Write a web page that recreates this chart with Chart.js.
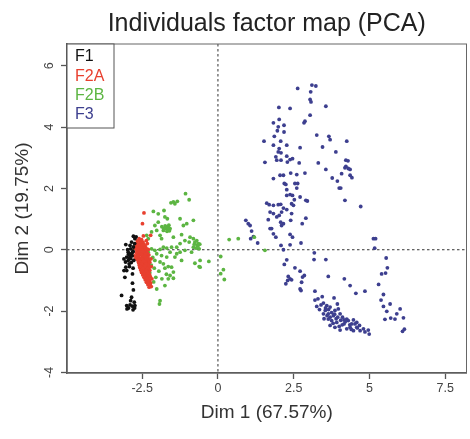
<!DOCTYPE html>
<html>
<head>
<meta charset="utf-8">
<script src="https://cdn.jsdelivr.net/npm/chart.js@4"></script>
<style>
  body { margin: 0; background: #fff; }
  #pca { display: block; }
</style>
</head>
<body>
<canvas id="pca" width="470" height="439"></canvas>
<script>
// group names and colours (legend order)
const groups = ["F1", "F2A", "F2B", "F3"];
const groupColors = ["#111111", "#e8402f", "#5cb542", "#3d3f8f"];

// tick values
const xTicks = [-2.5, 0, 2.5, 5, 7.5];
const yTicks = [-4, -2, 0, 2, 4, 6];

// individuals, [Dim 1, Dim 2]
const f1 = [
  [-2.79,0.44],[-2.70,0.42],[-2.74,0.36],[-2.85,0.25],[-2.75,0.20],[-3.04,0.17],[-2.90,0.14],
  [-2.79,0.09],[-2.88,0.03],[-2.98,0.00],[-2.80,-0.05],[-2.96,-0.08],[-2.82,-0.08],[-2.85,-0.13],
  [-2.95,-0.15],[-2.90,-0.18],[-2.83,-0.20],[-3.01,-0.24],[-2.93,-0.27],[-2.88,-0.29],[-3.10,-0.30],
  [-2.78,-0.35],[-2.96,-0.35],[-3.05,-0.40],[-2.86,-0.42],[-2.93,-0.46],[-2.92,-0.55],[-3.04,-0.57],
  [-2.80,-0.60],[-3.01,-0.68],[-3.10,-0.68],[-2.82,-0.79],[-3.07,-0.90],[-2.82,-1.09],[-2.79,-1.31],
  [-3.18,-1.49],[-2.85,-1.55],[-2.88,-1.66],[-2.76,-1.71],[-2.90,-1.80],[-2.74,-1.82],[-2.82,-1.84],
  [-3.01,-1.82],[-3.00,-1.93],[-2.95,-1.90],[-2.80,-1.96],[-2.75,-1.90]
];

const f2a = [
  [-2.60,0.36],[-2.52,0.33],[-2.66,0.29],[-2.57,0.27],[-2.47,0.25],[-2.69,0.21],[-2.61,0.19],
  [-2.53,0.22],[-2.44,0.17],[-2.71,0.13],[-2.63,0.11],[-2.55,0.14],[-2.47,0.10],[-2.40,0.12],
  [-2.68,0.06],[-2.60,0.04],[-2.52,0.07],[-2.45,0.03],[-2.37,0.05],[-2.67,-0.02],[-2.59,-0.03],
  [-2.51,-0.01],[-2.43,-0.04],[-2.35,-0.02],[-2.30,0.01],[-2.70,-0.10],[-2.62,-0.09],[-2.56,-0.12],
  [-2.48,-0.10],[-2.41,-0.08],[-2.33,-0.11],[-2.66,-0.18],[-2.58,-0.17],[-2.50,-0.20],[-2.43,-0.16],
  [-2.35,-0.19],[-2.28,-0.17],[-2.68,-0.26],[-2.61,-0.25],[-2.54,-0.28],[-2.46,-0.24],[-2.38,-0.27],
  [-2.31,-0.25],[-2.64,-0.34],[-2.57,-0.33],[-2.49,-0.36],[-2.42,-0.32],[-2.34,-0.35],[-2.27,-0.33],
  [-2.62,-0.42],[-2.55,-0.41],[-2.47,-0.44],[-2.40,-0.40],[-2.32,-0.43],[-2.25,-0.41],[-2.60,-0.50],
  [-2.52,-0.49],[-2.45,-0.52],[-2.37,-0.48],[-2.29,-0.51],[-2.58,-0.58],[-2.50,-0.57],[-2.42,-0.60],
  [-2.35,-0.56],[-2.27,-0.59],[-2.55,-0.66],[-2.47,-0.65],[-2.40,-0.68],[-2.32,-0.64],[-2.25,-0.67],
  [-2.52,-0.74],[-2.45,-0.73],[-2.37,-0.76],[-2.29,-0.72],[-2.48,-0.82],[-2.41,-0.81],[-2.34,-0.84],
  [-2.26,-0.80],[-2.44,-0.90],[-2.37,-0.89],[-2.30,-0.92],[-2.23,-0.88],[-2.40,-0.98],[-2.33,-0.97],
  [-2.26,-1.00],[-2.36,-1.06],[-2.29,-1.05],[-2.22,-1.08],[-2.31,-1.14],[-2.24,-1.13],[-2.27,-1.22],
  [-2.20,-1.20],
  [-2.64,0.00],[-2.56,0.08],[-2.49,0.15],[-2.58,-0.06],[-2.46,-0.06],[-2.39,-0.14],[-2.53,-0.15],
  [-2.63,-0.21],[-2.42,-0.22],[-2.50,-0.30],[-2.36,-0.30],[-2.59,-0.38],[-2.45,-0.38],[-2.52,-0.46],
  [-2.38,-0.46],[-2.56,-0.54],[-2.41,-0.54],[-2.47,-0.62],[-2.33,-0.62],[-2.50,-0.70],[-2.36,-0.70],
  [-2.42,-0.78],[-2.31,-0.78],[-2.39,-0.86],[-2.28,-0.86],[-2.34,-0.94],[-2.30,-1.02],[-2.26,-1.10],
  [-2.44,1.20],[-2.49,0.85],[-2.22,0.47],[-2.46,0.45],[-2.36,0.30],[-2.74,0.05],[-2.72,-0.30],
  [-2.21,-0.30],[-2.20,-0.55],[-2.18,-0.95],[-2.75,-0.20],[-2.33,0.20]
];

const f2b = [
  [-1.07,1.83],[-0.95,1.63],[-1.34,1.58],[-1.47,1.56],[-1.42,1.50],[-1.55,1.53],[-1.78,1.28],
  [-1.97,1.17],[-2.13,1.25],[-1.75,1.07],[-1.67,1.01],[-1.72,0.74],[-1.64,0.74],[-1.75,0.69],
  [-1.80,0.63],[-1.58,0.69],[-1.25,1.01],[-0.81,0.96],[-1.14,0.79],[-1.03,0.85],[-1.97,0.90],
  [-2.08,0.79],[-2.02,0.63],[-2.19,0.58],[-2.35,0.47],[-1.91,0.47],[-2.30,0.36],[-1.86,0.36],
  [-1.47,0.41],[-1.20,0.49],[-0.92,0.41],[-0.81,0.36],[-0.76,0.25],[-0.68,0.14],[-0.62,0.03],
  [-0.65,0.20],[-0.81,0.085],[-0.95,0.25],[-1.09,0.30],[-1.25,0.20],[-1.36,0.085],[-1.53,0.085],
  [-1.69,0.053],[-1.80,0.085],[-1.91,0.01],[-2.08,-0.02],[-2.19,0.03],[-2.30,-0.08],[-2.02,-0.13],
  [-1.86,-0.19],[-1.69,-0.24],[-1.91,-0.40],[-1.80,-0.46],[-2.08,-0.35],[-1.64,-0.55],[-1.53,-0.57],
  [-1.47,-0.73],[-1.58,-0.84],[-1.64,-0.95],[-1.47,-0.93],[-1.75,-1.17],[-2.02,-1.28],[-1.91,-1.66],
  [-1.93,-1.77],[-0.59,-0.35],[-0.62,-0.55],[-0.30,-0.38],[-0.76,-0.44],[-1.20,-0.35],[-1.42,-0.24],
  [-1.09,-0.02],[-0.87,-0.08],[-1.25,-0.08],[-1.36,-0.13],[-1.58,-0.08],[-0.59,-0.57],
  [-1.70,0.72],[-1.66,0.66],[-1.74,0.78],[-1.62,0.80],[-1.78,0.70],[-1.68,0.60],[-1.60,0.62],
  [-1.85,0.75],[-0.70,0.30],[-0.66,0.12],[-0.72,0.05],[-0.60,0.18],[-0.78,0.18],
  [-2.15,-0.25],[-2.20,-0.50],[-2.10,-0.60],[-1.95,-0.70],[-2.05,-0.90],[-1.85,-0.95],[-1.70,-0.80],
  [-1.75,-0.60],[-2.25,-0.75],[-2.12,-1.05],
  [0.09,-0.22],[0.18,-0.65],[0.09,-0.78],[0.21,-0.97],[0.37,0.33],[0.67,0.36],[1.20,0.41],[1.55,-0.02]
];

const f3 = [
  [2.63,5.26],[3.10,5.37],[3.23,5.34],[3.06,5.15],[3.04,4.90],[3.07,4.82],[3.56,4.68],[2.01,4.64],
  [2.38,4.61],[3.04,4.39],[2.87,4.19],[2.84,4.14],[1.83,4.14],[2.02,4.25],[2.18,4.06],[1.99,4.01],
  [1.96,3.88],[2.18,3.84],[1.86,3.70],[1.52,3.54],[2.07,3.54],[1.83,3.41],[2.27,3.41],[2.71,3.33],
  [3.26,3.74],[3.66,3.70],[3.70,3.59],[4.25,3.54],[3.45,3.35],[2.02,3.30],[1.99,3.19],[2.08,3.16],
  [1.91,3.03],[1.94,2.92],[2.08,2.92],[2.27,3.05],[2.38,2.94],[2.46,2.97],[1.55,2.85],[2.29,2.86],
  [2.68,2.83],[3.31,2.83],[3.89,3.19],[4.22,2.92],[4.29,2.90],[4.22,2.72],[4.30,2.65],[4.36,2.62],
  [4.19,2.67],[3.56,2.62],[4.08,2.48],[4.36,2.43],[4.42,2.35],[1.83,2.32],[2.05,2.43],[2.16,2.43],
  [2.40,2.50],[2.60,2.45],[2.87,2.50],[3.77,2.34],[3.94,2.24],[4.00,2.01],[4.05,2.01],[2.19,2.16],
  [2.24,2.13],[2.54,2.16],[2.63,2.16],[2.27,1.96],[2.60,2.01],[2.38,1.80],[2.27,1.77],[2.46,1.77],
  [2.52,1.63],[2.71,1.72],[2.90,1.61],[2.95,1.59],[2.43,1.50],[2.49,1.45],[1.61,1.52],[1.69,1.47],
  [1.83,1.45],[1.99,1.47],[2.07,1.48],[2.16,1.36],[4.19,1.61],[4.71,1.41],[2.27,1.31],[2.10,1.23],
  [2.02,1.12],[1.72,1.23],[1.83,1.18],[2.43,1.18],[2.07,0.90],[2.16,0.85],[2.10,0.79],[1.66,0.98],
  [1.77,0.69],[1.94,1.07],[2.40,0.96],[2.90,1.03],[2.78,0.85],[0.92,0.96],[1.00,0.85],[1.06,0.79],
  [1.11,0.61],[1.17,0.43],[1.08,0.36],[1.31,0.22],[1.72,0.69],[1.83,0.52],[1.91,0.41],[2.38,0.50],
  [2.46,0.41],[2.08,0.14],[2.16,0.00],[2.38,0.16],[2.74,0.22],[5.13,0.36],[5.20,0.36],[5.17,0.05],
  [3.18,-0.10],[3.17,-0.32],[3.56,-0.32],[2.19,-0.48],[2.27,-0.33],[2.54,-0.59],[2.71,-0.70],
  [2.85,-0.84],[2.79,-0.89],[2.32,-0.87],[2.38,-0.95],[2.30,-1.00],[2.43,-0.98],[2.24,-1.11],
  [2.76,-1.06],[2.71,-1.28],[2.74,-1.33],[3.64,-0.87],[4.17,-0.95],[4.36,-1.17],[4.55,-1.42],
  [4.85,-1.35],[5.55,-0.27],[5.59,-0.59],[5.53,-0.76],[5.40,-0.79],[5.30,-1.13],[5.46,-1.46],
  [5.38,-1.64],[5.46,-1.85],[5.68,-1.77],[5.57,-2.01],[5.51,-2.27],[5.70,-2.23],[5.84,-2.26],
  [5.90,-2.09],[6.01,-1.93],[6.12,-2.22],[6.09,-2.66],[6.15,-2.59],[3.20,-1.35],[3.20,-1.64],
  [3.26,-1.85],[3.44,-1.53],[3.48,-1.74],[3.59,-1.82],[3.70,-1.87],[3.83,-1.57],[3.94,-1.77],
  [3.54,-1.98],[3.64,-2.09],[3.70,-2.20],[3.81,-2.15],[3.86,-1.98],[3.97,-1.93],[4.03,-2.09],
  [4.11,-2.20],[4.16,-2.29],[4.25,-2.26],[4.30,-2.31],[4.41,-2.42],[4.47,-2.29],[4.52,-2.42],
  [4.58,-2.53],[4.67,-2.47],[4.80,-2.58],[4.96,-2.62],[4.99,-2.75],[3.64,-2.26],[3.75,-2.31],
  [3.48,-2.09],[3.70,-2.47],[3.86,-2.53],[4.03,-2.62],[4.25,-2.58],[4.36,-2.53],[3.92,-2.37],
  [4.47,-2.64],[4.69,-2.64],[4.58,-2.37],[4.16,-2.42],
  [3.30,-1.60],[3.40,-1.80],[3.55,-1.90],[3.65,-1.95],[3.75,-2.05],[3.85,-2.10],[3.95,-2.20],
  [4.05,-2.30],[4.20,-2.35],[4.35,-2.45],[4.10,-2.45],[3.90,-2.25],[3.60,-2.15],[4.40,-2.60],
  [4.60,-2.55],[4.85,-2.68],[3.35,-1.95],[3.50,-2.25],[3.80,-2.40],[4.00,-2.50]
];

const groupData = [f1, f2a, f2b, f3];

const FONT = "'Liberation Sans', Arial, sans-serif";

const datasets = groups.map((g, i) => ({
  label: g,
  data: groupData[i].map(p => ({ x: p[0], y: p[1] })),
  backgroundColor: groupColors[i],
  borderWidth: 0,
  pointRadius: 1.9,
  pointHoverRadius: 1.9
}));

// dashed zero lines + frame box, y labels and legend
const framePlugin = {
  id: "frame",
  beforeDatasetsDraw(chart) {
    const { ctx, chartArea: a, scales } = chart;
    const x0 = scales.x.getPixelForValue(0);
    const y0 = scales.y.getPixelForValue(0);
    ctx.save();
    ctx.strokeStyle = "#333";
    ctx.lineWidth = 1;
    ctx.setLineDash([2.5, 2.5]);
    ctx.beginPath();
    ctx.moveTo(x0, a.top); ctx.lineTo(x0, a.bottom);
    ctx.moveTo(a.left, y0); ctx.lineTo(a.right, y0);
    ctx.stroke();
    ctx.setLineDash([]);
    ctx.strokeStyle = "#666";
    ctx.strokeRect(a.left, a.top, a.right - a.left, a.bottom - a.top);
    ctx.restore();
  },
  afterDraw(chart) {
    const { ctx, chartArea: a, scales } = chart;
    ctx.save();
    // y tick labels, rotated like R's las=0
    ctx.fillStyle = "#444";
    ctx.font = "12.5px " + FONT;
    ctx.textAlign = "center";
    ctx.textBaseline = "middle";
    scales.y.ticks.forEach(t => {
      const py = scales.y.getPixelForValue(t.value);
      ctx.save();
      ctx.translate(a.left - 17, py);
      ctx.rotate(-Math.PI / 2);
      ctx.fillText(String(t.value), 0, 0);
      ctx.restore();
    });
    // legend box in the top-left corner
    ctx.font = "16px " + FONT;
    ctx.textAlign = "left";
    const rowH = 19.3;
    ctx.fillStyle = "#fff";
    ctx.fillRect(a.left, a.top, 47, 84);
    ctx.strokeStyle = "#555";
    ctx.lineWidth = 1;
    ctx.strokeRect(a.left, a.top, 47, 84);
    chart.data.datasets.forEach((ds, i) => {
      ctx.fillStyle = ds.backgroundColor;
      ctx.fillText(ds.label, a.left + 8, a.top + 13 + i * rowH);
    });
    ctx.restore();
  }
};

new Chart(document.getElementById("pca"), {
  type: "scatter",
  data: { datasets },
  plugins: [framePlugin],
  options: {
    responsive: false,
    animation: false,
    layout: { padding: { left: 0, right: 3.5, top: 0, bottom: 0 } },
    plugins: {
      legend: { display: false },
      tooltip: { enabled: false },
      title: {
        display: true,
        text: "Individuals factor map (PCA)",
        fullSize: false,
        color: "#222",
        font: { family: FONT, size: 25, weight: "normal" },
        padding: { top: 9, bottom: 5 }
      }
    },
    scales: {
      x: {
        type: "linear",
        min: -4.98,
        max: 8.2,
        afterBuildTicks: s => { s.ticks = xTicks.map(v => ({ value: v })); },
        afterFit: s => { s.height = 66; },
        grid: { drawOnChartArea: false, drawTicks: true, tickLength: 6, color: "#555", tickWidth: 1.3 },
        border: { display: true, color: "#555", width: 1.6 },
        ticks: { color: "#444", padding: 2, font: { family: FONT, size: 12.5 }, maxRotation: 0 },
        title: {
          display: true,
          text: "Dim 1 (67.57%)",
          color: "#333",
          font: { family: FONT, size: 19 },
          padding: { top: 0, bottom: 15 }
        }
      },
      y: {
        type: "linear",
        min: -4.02,
        max: 6.71,
        afterBuildTicks: s => { s.ticks = yTicks.map(v => ({ value: v })); },
        afterFit: s => { s.width = 67; },
        grid: { drawOnChartArea: false, drawTicks: true, tickLength: 6, color: "#555", tickWidth: 1.3 },
        border: { display: true, color: "#555", width: 1.6 },
        ticks: { display: false },
        title: {
          display: true,
          text: "Dim 2 (19.75%)",
          color: "#333",
          font: { family: FONT, size: 19 },
          padding: { top: 11, bottom: 0 }
        }
      }
    }
  }
});
</script>
</body>
</html>
